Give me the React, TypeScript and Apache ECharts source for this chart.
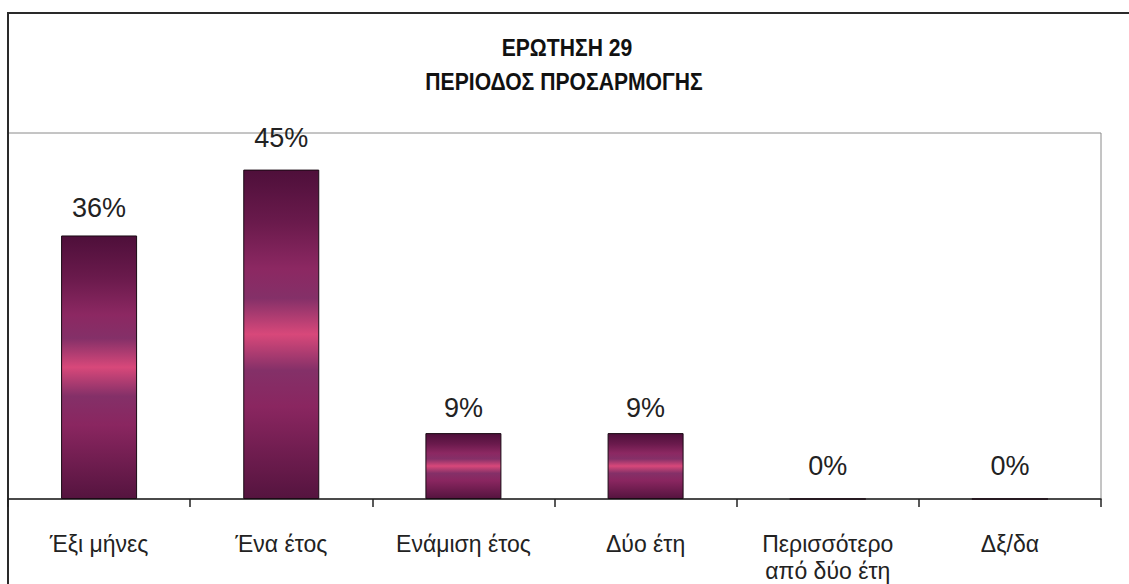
import React, { useEffect, useRef } from "react";
import * as echarts from "echarts";

const titleLines = ["ΕΡΩΤΗΣΗ 29", "ΠΕΡΙΟΔΟΣ ΠΡΟΣΑΡΜΟΓΗΣ"];
const categories = [
  "Έξι μήνες",
  "Ένα έτος",
  "Ενάμιση έτος",
  "Δύο έτη",
  "Περισσότερο\nαπό δύο έτη",
  "Δξ/δα",
];
const values = [36, 45, 9, 9, 0, 0];
const labelGaps = [14, 18, 12, 12, 19, 19];

export default function App() {
  const ref = useRef<HTMLDivElement>(null);
  useEffect(() => {
    if (!ref.current) return;
    const chart = echarts.init(ref.current, null, { renderer: "svg" });
    const barGradient = new echarts.graphic.LinearGradient(0, 0, 0, 1, [
      { offset: 0, color: "#4e0f3a" },
      { offset: 0.16, color: "#6a1a4c" },
      { offset: 0.3, color: "#8c2862" },
      { offset: 0.39, color: "#843068" },
      { offset: 0.5, color: "#d8487a" },
      { offset: 0.61, color: "#843068" },
      { offset: 0.72, color: "#8a2660" },
      { offset: 1, color: "#55143f" },
    ]);
    const titleFont = "'Liberation Sans', Arial, sans-serif";
    chart.setOption({
      animation: false,
      backgroundColor: "#ffffff",
      grid: {
        left: 8,
        right: 28,
        top: 133,
        bottom: 84,
        show: true,
        borderColor: "#8a8a8a",
        borderWidth: 1,
        containLabel: false,
      },
      xAxis: {
        type: "category",
        data: categories,
        axisLine: { show: true, lineStyle: { color: "#222", width: 1.5 } },
        axisTick: { show: true, length: 8, lineStyle: { color: "#222", width: 1.5 } },
        axisLabel: {
          interval: 0,
          margin: 31,
          fontSize: 23,
          color: "#222",
          lineHeight: 27,
          verticalAlign: "top",
          fontFamily: "'Liberation Sans', Arial, sans-serif",
        },
      },
      yAxis: {
        type: "value",
        min: 0,
        max: 50,
        show: false,
        splitLine: { show: false },
      },
      graphic: [
        {
          type: "line",
          shape: { x1: 7, y1: 13, x2: 1129, y2: 13 },
          style: { stroke: "#2a2a2a", lineWidth: 2 },
        },
        {
          type: "line",
          shape: { x1: 8, y1: 13, x2: 8, y2: 584 },
          style: { stroke: "#2a2a2a", lineWidth: 2 },
        },
        {
          type: "text",
          x: 567,
          y: 48,
          scaleX: 0.92,
          style: {
            text: titleLines[0],
            fontSize: 23,
            fontWeight: "bold",
            fontFamily: titleFont,
            fill: "#111",
            align: "center",
            verticalAlign: "middle",
          },
        },
        {
          type: "text",
          x: 564,
          y: 82,
          scaleX: 0.92,
          style: {
            text: titleLines[1],
            fontSize: 23,
            fontWeight: "bold",
            fontFamily: titleFont,
            fill: "#111",
            align: "center",
            verticalAlign: "middle",
          },
        },
      ],
      series: [
        {
          type: "bar",
          barWidth: 76,
          data: values.map((v, i) => ({
            value: v,
            label: { distance: labelGaps[i] },
          })),
          itemStyle: {
            color: barGradient,
            borderColor: "#1a0a14",
            borderWidth: 1,
          },
          label: {
            show: true,
            position: "top",
            formatter: "{c}%",
            fontSize: 27,
            color: "#222",
            fontFamily: "'Liberation Sans', Arial, sans-serif",
          },
        },
      ],
    });
    return () => chart.dispose();
  }, []);
  return (
    <div
      ref={ref}
      style={{ position: "absolute", left: 0, top: 0, width: 1129, height: 584 }}
    />
  );
}
